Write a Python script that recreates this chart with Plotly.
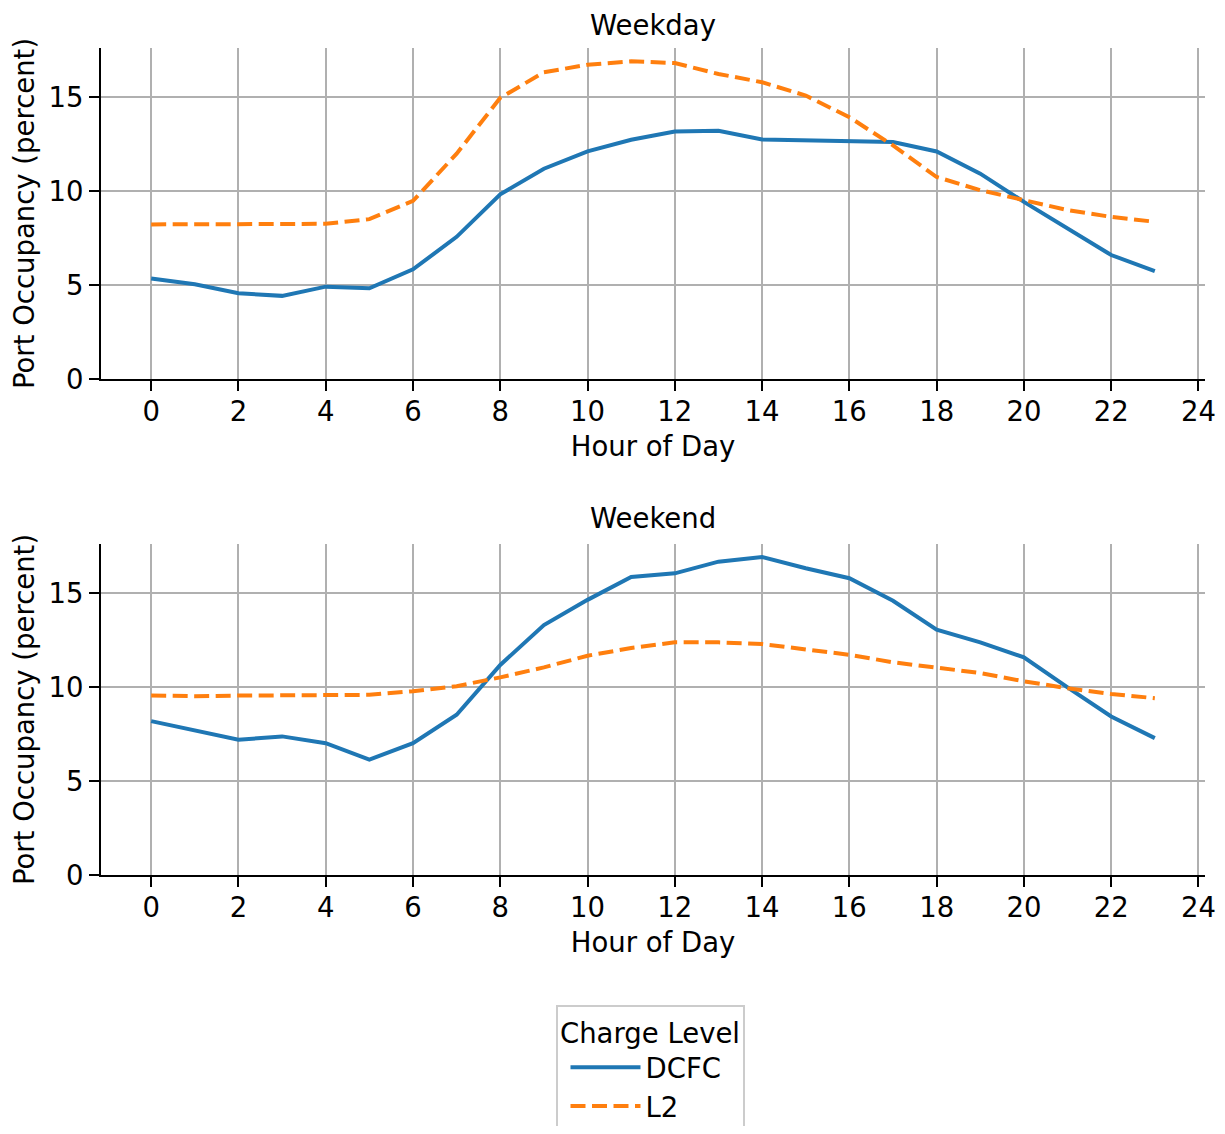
import plotly.graph_objects as go

hours = list(range(24))

weekday_dcfc = [5.34, 5.04, 4.56, 4.42, 4.91, 4.82, 5.83, 7.56, 9.82, 11.18, 12.10, 12.72,
                13.16, 13.20, 12.74, 12.70, 12.63, 12.60, 12.10, 10.92, 9.42, 8.00, 6.59, 5.74]
weekday_l2 = [8.22, 8.22, 8.22, 8.22, 8.25, 8.50, 9.47, 11.98, 14.95, 16.31, 16.71, 16.89,
              16.80, 16.22, 15.78, 15.07, 13.92, 12.42, 10.74, 10.04, 9.51, 8.98, 8.62, 8.36]
weekend_dcfc = [8.18, 7.69, 7.19, 7.37, 7.01, 6.13, 7.01, 8.52, 11.17, 13.29, 14.63, 15.85,
                16.04, 16.66, 16.91, 16.31, 15.78, 14.58, 13.04, 12.37, 11.57, 9.98, 8.43, 7.28]
weekend_l2 = [9.54, 9.51, 9.54, 9.56, 9.58, 9.58, 9.77, 10.04, 10.51, 11.04, 11.66, 12.07,
              12.37, 12.37, 12.28, 12.01, 11.71, 11.31, 11.01, 10.74, 10.30, 9.93, 9.63, 9.40]

panel_titles = ["Weekday", "Weekend"]
x_ticks = list(range(0, 25, 2))
y_ticks = [0, 5, 10, 15]

BLUE = "#1f77b4"
ORANGE = "#ff7f0e"
FONT = "DejaVu Sans"
FS = 27.5

# page body has an 8px margin; figure sized to fit the 1225x1134 window
OFF = 8
W, H = 1225 - 2 * OFF, 1134 - 2 * OFF


def px_x(p):
    return (p - OFF) / W


def px_y(p):
    return (H - (p - OFF)) / H


fig = go.Figure()

panels = [(weekday_dcfc, weekday_l2), (weekend_dcfc, weekend_l2)]
for i, (dcfc, l2) in enumerate(panels):
    ax = "" if i == 0 else str(i + 1)
    fig.add_trace(go.Scatter(x=hours, y=dcfc, mode="lines", name="DCFC",
                             line=dict(color=BLUE, width=4),
                             xaxis="x" + ax, yaxis="y" + ax,
                             showlegend=(i == 0)))
    fig.add_trace(go.Scatter(x=hours, y=l2, mode="lines", name="L2",
                             line=dict(color=ORANGE, width=4, dash="15px,6.5px"),
                             xaxis="x" + ax, yaxis="y" + ax,
                             showlegend=(i == 0)))

x0, x1 = px_x(101), px_x(1205)
doms = [(px_y(379), px_y(48)), (px_y(875), px_y(544))]

common_x = dict(range=[-1.15, 24.15], tickmode="array", tickvals=x_ticks,
                showgrid=True, gridcolor="#b0b0b0", gridwidth=2.2,
                showline=True, linecolor="black", linewidth=2.2,
                ticks="outside", ticklen=10, tickwidth=2.2, tickcolor="black",
                ticklabelstandoff=-3,
                zeroline=False, tickfont=dict(size=FS, color="black"),
                title=dict(text="Hour of Day", font=dict(size=FS, color="black"), standoff=11))
common_y = dict(range=[0, 17.6], tickmode="array", tickvals=y_ticks,
                showgrid=True, gridcolor="#b0b0b0", gridwidth=2.2,
                showline=True, linecolor="black", linewidth=2.2,
                ticks="outside", ticklen=10, tickwidth=2.2, tickcolor="black",
                zeroline=False, tickfont=dict(size=FS, color="black"),
                title=dict(text="Port Occupancy (percent)", font=dict(size=FS, color="black"), standoff=14))

layout = dict(
    width=W, height=H,
    margin=dict(l=0, r=0, t=0, b=0, autoexpand=False),
    paper_bgcolor="white", plot_bgcolor="white",
    font=dict(family=FONT, color="black"),
    legend=dict(title=dict(text="Charge Level", font=dict(size=FS), side="top center"),
                font=dict(size=FS),
                x=px_x(650), xanchor="center", y=px_y(1005), yanchor="top",
                itemwidth=70, indentation=8,
                bordercolor="#cccccc", borderwidth=2, bgcolor="white"),
)
for i in range(2):
    ax = "" if i == 0 else str(i + 1)
    layout["xaxis" + ax] = dict(common_x, domain=[x0, x1], anchor="y" + ax)
    layout["yaxis" + ax] = dict(common_y, domain=list(doms[i]), anchor="x" + ax)
fig.update_layout(**layout)

title_y = [22, 518]
for i, (t, yp) in enumerate(zip(panel_titles, title_y)):
    if i == 0:
        fig.add_annotation(text=t, x=(x0 + x1) / 2, y=1, xref="paper", yref="paper",
                           xanchor="center", yanchor="top", showarrow=False, borderpad=0,
                           font=dict(size=FS, color="black", family=FONT))
    else:
        fig.add_annotation(text=t, x=(x0 + x1) / 2, y=px_y(yp), xref="paper", yref="paper",
                           xanchor="center", yanchor="middle", showarrow=False,
                           font=dict(size=FS, color="black", family=FONT))

fig.write_html("out.html")
